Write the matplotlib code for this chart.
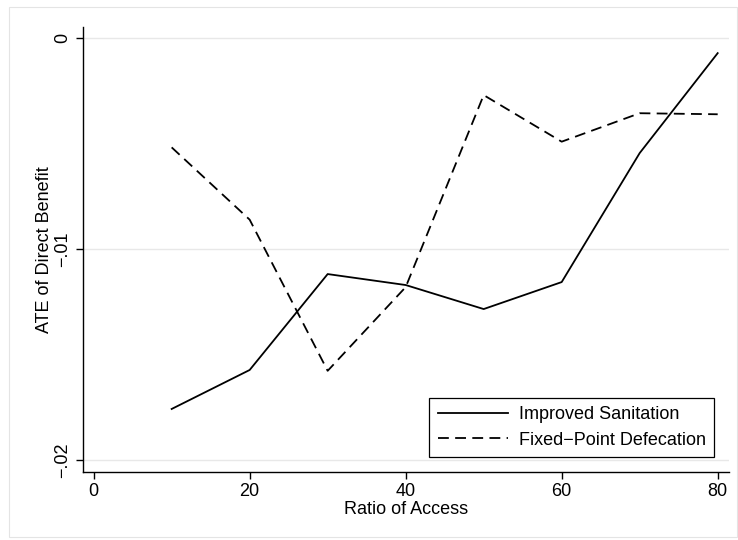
import numpy as np
from matplotlib import pyplot as plt
from matplotlib.patches import Rectangle

plt.rcParams['font.family'] = ['Liberation Sans', 'DejaVu Sans']

# ratio of access
ratio = [10, 20, 30, 40, 50, 60, 70, 80]
# ATE series
sanitation = [-0.01758, -0.01573, -0.01118, -0.0117, -0.01284, -0.01156, -0.00544, -0.0007]
fixed_point = [-0.00517, -0.0086, -0.01577, -0.0118, -0.00269, -0.0049, -0.00355, -0.0036]

xticks = [0, 20, 40, 60, 80]
yticks = [-0.02, -0.01, 0]
ylabels = ['\u2212.02', '\u2212.01', '0']

fig = plt.figure(figsize=(7.38, 5.4), dpi=100)
ax = fig.add_axes([0.1121, 0.1265, 0.8757, 0.8235])

# faint outer frame like stata's graph region
fig.patches.append(Rectangle((9/738, 3/540), 728/738, 530/540, transform=fig.transFigure,
                             fill=False, ec='#e4e4e4', lw=0.8))

ax.plot(ratio, sanitation, c='black', linestyle='-', lw=1.3, label='Improved Sanitation')
ax.plot(ratio, fixed_point, c='black', linestyle=(0, (6, 3.5)), lw=1.3, label='Fixed\u2212Point Defecation')

ax.set_xlim(-1.4, 81.45)
ax.set_ylim(-0.020555, 0.00054)
ax.set_xticks(xticks)
ax.set_yticks(yticks)
ax.set_yticklabels(ylabels, rotation=90, va='center')
for y in yticks:
    ax.axhline(y, color='#e8e8e8', lw=1, zorder=0)

for s in ['top', 'right']:
    ax.spines[s].set_visible(False)
ax.spines['left'].set_linewidth(1.0)
ax.spines['bottom'].set_linewidth(1.0)
ax.tick_params(direction='out', length=5, width=1, labelsize=13, pad=3)

ax.set_xlabel('Ratio of Access', fontsize=13, labelpad=1)
ax.set_ylabel('ATE of Direct Benefit', fontsize=13, labelpad=1)

leg = ax.legend(loc='lower right', bbox_to_anchor=(0.9907, 0.0135), fontsize=13,
                fancybox=False, edgecolor='black', framealpha=1, handlelength=3.9,
                handletextpad=0.6, borderpad=0.45, labelspacing=0.45)
leg.get_frame().set_linewidth(0.9)

plt.savefig('out.png', dpi=100, format='png')
